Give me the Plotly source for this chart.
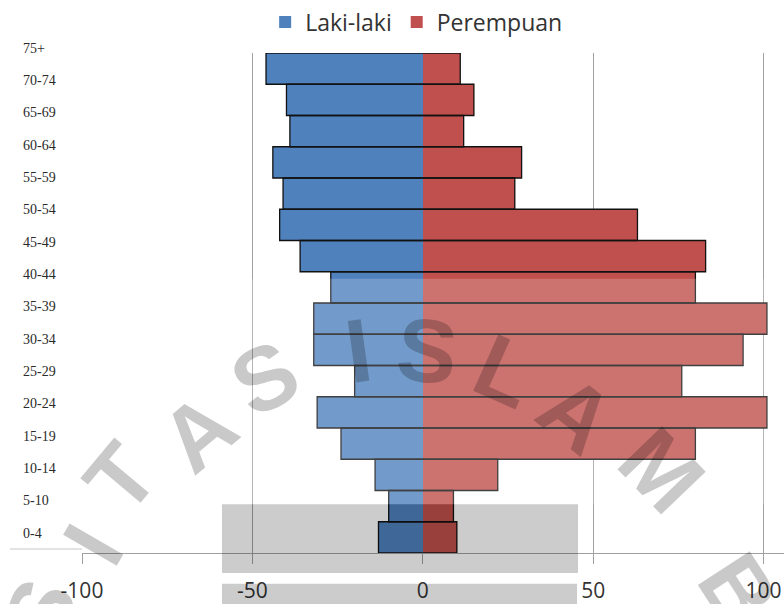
import plotly.graph_objects as go

# Age groups from youngest (bottom) to oldest (top)
age_groups = ["0-4", "5-10", "10-14", "15-19", "20-24", "25-29", "30-34", "35-39",
              "40-44", "45-49", "50-54", "55-59", "60-64", "65-69", "70-74", "75+"]
laki_laki = [13, 10, 14, 24, 31, 20, 32, 32, 27, 36, 42, 41, 44, 39, 40, 46]
perempuan = [10, 9, 22, 80, 101, 76, 94, 101, 80, 83, 63, 27, 29, 12, 15, 11]
x_tick_values = [-100, -50, 0, 50, 100]
x_tick_labels = ["-100", "-50", "0", "50", "100"]

BLUE = "#4F81BD"
RED = "#C0504D"

W, H = 784, 604
L, R, T, B = 82, 0, 50, 51
PW, PH = W - L - R, H - T - B
N = len(age_groups)


def px_to_paper(px, py):
    return (px - L) / PW, (H - B - py) / PH


def outline(values):
    """Outer edges of each bar (end plus top and bottom), leaving the zero side open."""
    xs, ys = [], []
    for i, v in enumerate(values):
        xs += [0, v, v, 0, None]
        ys += [i - 0.5, i - 0.5, i + 0.5, i + 0.5, None]
    return xs, ys


ypos = list(range(N))
left_vals = [-v for v in laki_laki]

fig = go.Figure()
fig.add_trace(go.Bar(y=ypos, x=left_vals, orientation="h", name="Laki-laki",
                     marker=dict(color=BLUE, line=dict(width=0)), width=1))
fig.add_trace(go.Bar(y=ypos, x=perempuan, orientation="h", name="Perempuan",
                     marker=dict(color=RED, line=dict(width=0)), width=1))

for vals in (left_vals, perempuan):
    ox, oy = outline(vals)
    fig.add_trace(go.Scatter(x=ox, y=oy, mode="lines", showlegend=False,
                             hoverinfo="skip", line=dict(color="#111111", width=1.3)))

# Age-group labels, left aligned in the margin with a slightly wider pitch than the bars
label_step = 1.0347
for k, name in enumerate(age_groups):
    fig.add_annotation(text=name, xref="paper", yref="paper", x=px_to_paper(21, 0)[0],
                       y=(0.136 + k * label_step + 0.5) / N, xanchor="left", yanchor="middle",
                       showarrow=False,
                       font=dict(family="Liberation Serif", size=14, color="#2a2a2a"))

shapes = []
# light haze band across the middle of the chart
hx0, hy0 = px_to_paper(0, 277)
hx1, hy1 = px_to_paper(W, 504)
shapes.append(dict(type="rect", xref="paper", yref="paper", x0=hx0, x1=hx1, y0=hy1, y1=hy0,
                   fillcolor="rgba(255,255,255,0.2)", line=dict(width=0), layer="above"))
# grey boxes near the bottom axis
for (x0, y0, x1, y1) in [(222, 504, 578, 573), (222, 584, 577, 610)]:
    a0, b0 = px_to_paper(x0, y0)
    a1, b1 = px_to_paper(x1, y1)
    shapes.append(dict(type="rect", xref="paper", yref="paper", x0=a0, x1=a1, y0=b1, y1=b0,
                       fillcolor="rgba(0,0,0,0.2)", line=dict(width=0), layer="above"))
# short baseline stub under the label column
s0x, s0y = px_to_paper(10, 549)
s1x, _ = px_to_paper(82, 549)
shapes.append(dict(type="line", xref="paper", yref="paper", x0=s0x, x1=s1x, y0=s0y, y1=s0y,
                   line=dict(color="#c8c8c8", width=1)))

# watermark lettering along an arc
watermark = [("S", 40, 612, -70), ("I", 93, 545, -60), ("T", 121, 478, -50),
             ("A", 198, 432, -40), ("S", 265, 377, -28), ("I", 358, 350, -8),
             ("S", 427, 350, 6), ("L", 505, 370, 24), ("A", 576, 413, 38),
             ("M", 661, 470, 46), ("B", 738, 590, 57)]
for ch, cx, cy, ang in watermark:
    ax_, ay_ = px_to_paper(cx, cy)
    fig.add_annotation(text=ch, xref="paper", yref="paper", x=ax_, y=ay_,
                       xanchor="center", yanchor="middle", showarrow=False, textangle=ang,
                       font=dict(family="Liberation Sans", size=90, color="rgba(0,0,0,0.21)",
                                 weight="bold"))

fig.update_layout(
    width=W, height=H,
    margin=dict(l=L, r=R, t=T, b=B, pad=0),
    paper_bgcolor="white", plot_bgcolor="white",
    barmode="relative", bargap=0,
    shapes=shapes,
    showlegend=True,
    legend=dict(orientation="h", x=0.476, xanchor="center", y=1.105, yanchor="top",
                font=dict(family="Open Sans", size=23, color="#333333"),
                bgcolor="rgba(0,0,0,0)"),
    xaxis=dict(range=[-100, 106], tickvals=x_tick_values, ticktext=x_tick_labels,
               showgrid=True, gridcolor="#a0a0a0", gridwidth=1, zeroline=False,
               showline=True, linecolor="#a0a0a0", linewidth=1,
               ticks="outside", ticklen=10, tickcolor="#a0a0a0",
               ticklabelstandoff=9,
               tickfont=dict(family="Open Sans", size=21, color="#333333")),
    yaxis=dict(range=[-0.5, 15.5], showticklabels=False, showgrid=False,
               zeroline=False, showline=False),
)

fig.write_html("out.html")
